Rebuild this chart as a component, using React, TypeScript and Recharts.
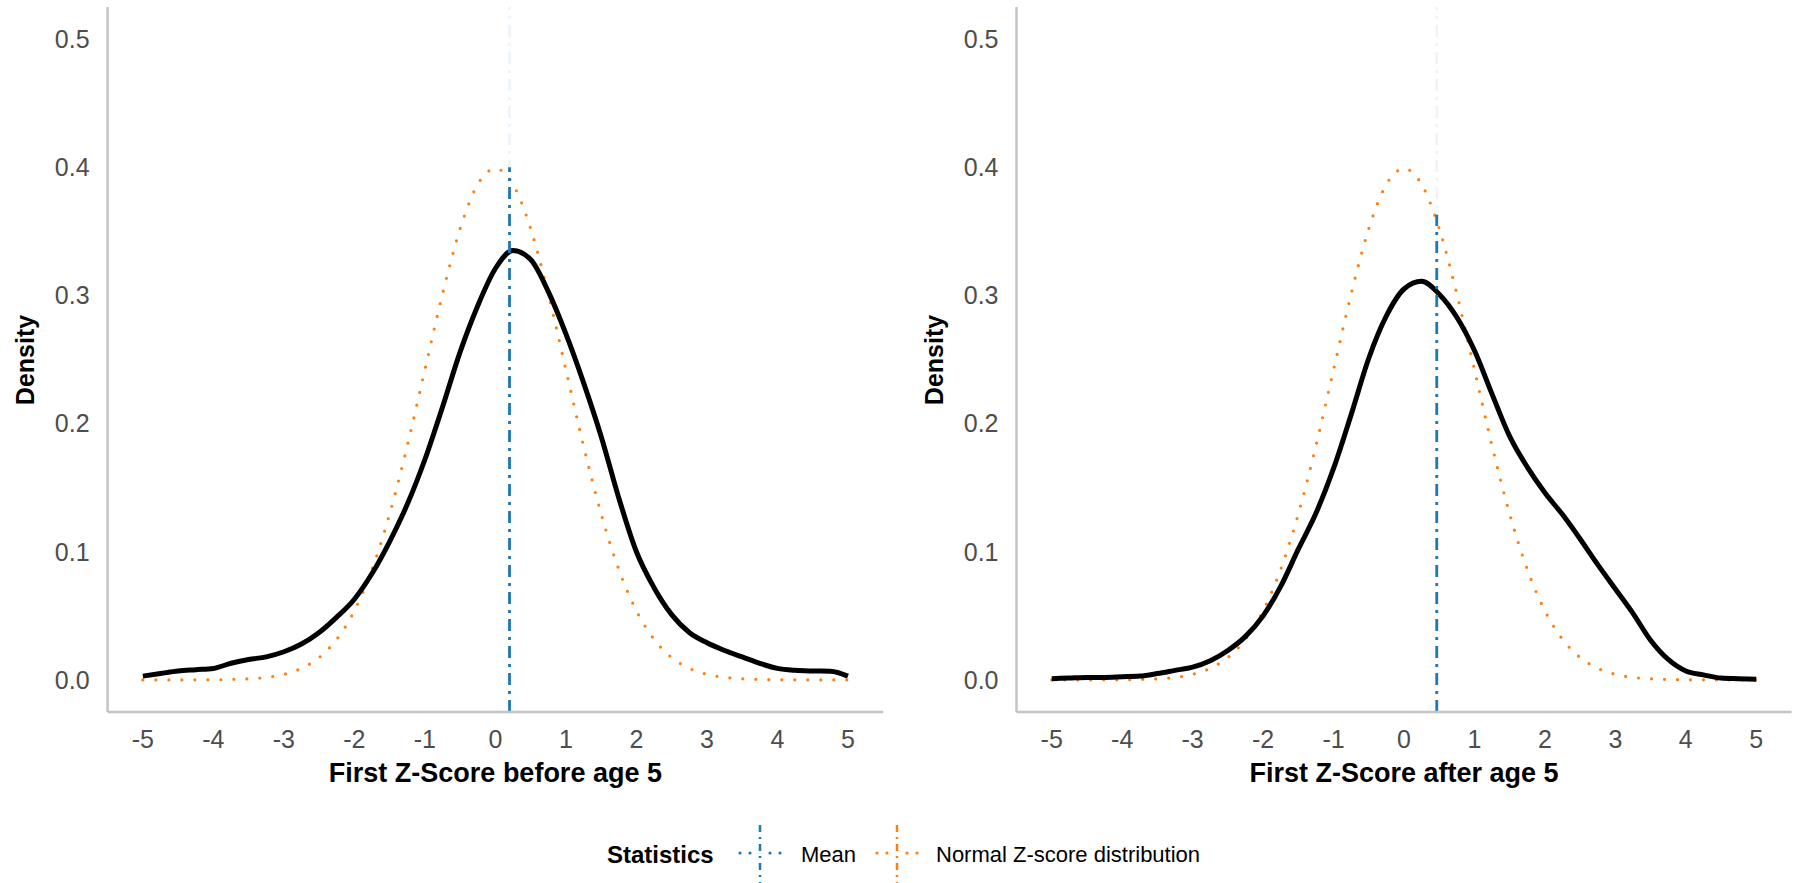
import React from "react";
import { LineChart, Line, XAxis, YAxis, ReferenceLine } from "recharts";

// z grid the densities were read on
const zScores = [
  -5, -4.75, -4.5, -4.25, -4, -3.75, -3.5, -3.25, -3, -2.75, -2.5, -2.25, -2,
  -1.75, -1.5, -1.25, -1, -0.75, -0.5, -0.25, 0, 0.25, 0.5, 0.75, 1, 1.25, 1.5,
  1.75, 2, 2.25, 2.5, 2.75, 3, 3.25, 3.5, 3.75, 4, 4.25, 4.5, 4.75, 5,
];

const densityBefore = [
  0.003, 0.005, 0.007, 0.008, 0.009, 0.013, 0.016, 0.018, 0.022, 0.028, 0.037,
  0.049, 0.063, 0.083, 0.108, 0.137, 0.172, 0.213, 0.256, 0.292, 0.321, 0.335,
  0.328, 0.303, 0.27, 0.232, 0.19, 0.142, 0.1, 0.072, 0.051, 0.037, 0.029, 0.023,
  0.018, 0.013, 0.009, 0.0075, 0.007, 0.0068, 0.003,
];

const densityAfter = [
  0.001, 0.0015, 0.002, 0.002, 0.0025, 0.003, 0.005, 0.0075, 0.01, 0.015, 0.023,
  0.034, 0.05, 0.073, 0.102, 0.13, 0.165, 0.207, 0.251, 0.284, 0.305, 0.311,
  0.301, 0.283, 0.257, 0.223, 0.19, 0.166, 0.146, 0.129, 0.11, 0.09, 0.071, 0.052,
  0.031, 0.016, 0.007, 0.004, 0.0015, 0.001, 0.0005,
];

// reference normal curve as drawn
const normalDensity = [
  0, 0, 0, 0.0001, 0.0001, 0.0004, 0.0009, 0.002, 0.0044, 0.0091, 0.0175,
  0.0317, 0.054, 0.0863, 0.1295, 0.1826, 0.242, 0.3011, 0.3521, 0.3867, 0.3989,
  0.3867, 0.3521, 0.3011, 0.242, 0.1826, 0.1295, 0.0863, 0.054, 0.0317, 0.0175,
  0.0091, 0.0044, 0.002, 0.0009, 0.0004, 0.0001, 0.0001, 0, 0, 0,
];

const xTicks = [-5, -4, -3, -2, -1, 0, 1, 2, 3, 4, 5];
const yTicks = [0, 0.1, 0.2, 0.3, 0.4, 0.5];

const meanBefore = 0.2;
const meanAfter = 0.465;
const meanTopBefore = 0.4;
const meanTopAfter = 0.363;

const FONT = "'Liberation Sans', Arial, sans-serif";
const BLUE = "#1f77b4";
const ORANGE = "#ff7f0e";
const AXIS = "#c4c4c4";
const DOTDASH = "12 6 3 6";

const rowsFor = (density: number[]) =>
  zScores.map((z, i) => ({ z, density: density[i], normal: normalDensity[i] }));

interface PanelProps {
  density: number[];
  mean: number;
  meanTop: number;
  left: number;
  width: number;
  yAxisWidth: number;
  rightMargin: number;
}

const Panel: React.FC<PanelProps> = ({
  density,
  mean,
  meanTop,
  left,
  width,
  yAxisWidth,
  rightMargin,
}) => {
  const tick = { fill: "#4d4d4d", fontSize: 25, fontFamily: FONT };
  return (
    <div style={{ position: "absolute", left, top: 0 }}>
      <LineChart
        width={width}
        height={800}
        data={rowsFor(density)}
        margin={{ top: 7, right: rightMargin, left: 0, bottom: 0 }}
      >
        <XAxis
          dataKey="z"
          type="number"
          domain={[-5.5, 5.5]}
          ticks={xTicks}
          height={88}
          tickLine={false}
          tickSize={0}
          tickMargin={18}
          axisLine={{ stroke: AXIS, strokeWidth: 2.5 }}
          tick={tick}
          allowDataOverflow
        />
        <YAxis
          type="number"
          domain={[-0.025, 0.525]}
          ticks={yTicks}
          width={yAxisWidth}
          tickLine={false}
          tickSize={0}
          tickMargin={18}
          axisLine={{ stroke: AXIS, strokeWidth: 2.5 }}
          tick={tick}
          tickFormatter={(v: number) => v.toFixed(1)}
          allowDataOverflow
        />
        <Line
          type="monotone"
          dataKey="normal"
          stroke={ORANGE}
          strokeWidth={3.2}
          strokeDasharray="0 13"
          strokeLinecap="round"
          dot={false}
          isAnimationActive={false}
        />
        <Line
          type="monotone"
          dataKey="density"
          stroke="#000"
          strokeWidth={5}
          dot={false}
          isAnimationActive={false}
        />
        <ReferenceLine
          x={mean}
          stroke={BLUE}
          strokeOpacity={0.08}
          strokeWidth={2.5}
          strokeDasharray={DOTDASH}
        />
        <ReferenceLine
          segment={[
            { x: mean, y: -0.025 },
            { x: mean, y: meanTop },
          ]}
          stroke={BLUE}
          strokeWidth={2.8}
          strokeDasharray={DOTDASH}
        />
      </LineChart>
    </div>
  );
};

const LegendKey: React.FC<{ cx: number; color: string }> = ({ cx, color }) => (
  <g>
    <line
      x1={cx}
      x2={cx}
      y1={825}
      y2={883}
      stroke={color}
      strokeWidth={2.5}
      strokeDasharray="7 5 2 5"
    />
    {[-20, -10, 10, 20].map((d) => (
      <circle key={d} cx={cx + d} cy={853} r={1.6} fill={color} />
    ))}
  </g>
);

export default function App() {
  return (
    <div
      style={{
        position: "absolute",
        left: 0,
        top: 0,
        width: 1794,
        height: 883,
        background: "#fff",
        overflow: "hidden",
      }}
    >
      <Panel
        density={densityBefore}
        mean={meanBefore}
        meanTop={meanTopBefore}
        left={0}
        width={900}
        yAxisWidth={107.6}
        rightMargin={16.8}
      />
      <Panel
        density={densityAfter}
        mean={meanAfter}
        meanTop={meanTopAfter}
        left={900}
        width={894}
        yAxisWidth={116.5}
        rightMargin={2.5}
      />
      <svg
        width={1794}
        height={883}
        style={{ position: "absolute", left: 0, top: 0, pointerEvents: "none" }}
        fontFamily={FONT}
      >
        <text x={495.4} y={782} textAnchor="middle" fontSize={27} fontWeight="bold" fill="#000">
          First Z-Score before age 5
        </text>
        <text x={1404} y={782} textAnchor="middle" fontSize={27} fontWeight="bold" fill="#000">
          First Z-Score after age 5
        </text>
        <text
          x={25}
          y={360}
          transform="rotate(-90 25 360)"
          textAnchor="middle"
          dominantBaseline="central"
          fontSize={25}
          fontWeight="bold"
          fill="#000"
        >
          Density
        </text>
        <text
          x={934}
          y={360}
          transform="rotate(-90 934 360)"
          textAnchor="middle"
          dominantBaseline="central"
          fontSize={25}
          fontWeight="bold"
          fill="#000"
        >
          Density
        </text>

        <text x={607} y={863} fontSize={24} fontWeight="bold" fill="#000">
          Statistics
        </text>
        <LegendKey cx={760} color={BLUE} />
        <text x={801} y={862} fontSize={22} fill="#000">
          Mean
        </text>
        <LegendKey cx={897} color={ORANGE} />
        <text x={936} y={862} fontSize={22} fill="#000">
          Normal Z-score distribution
        </text>
      </svg>
    </div>
  );
}
